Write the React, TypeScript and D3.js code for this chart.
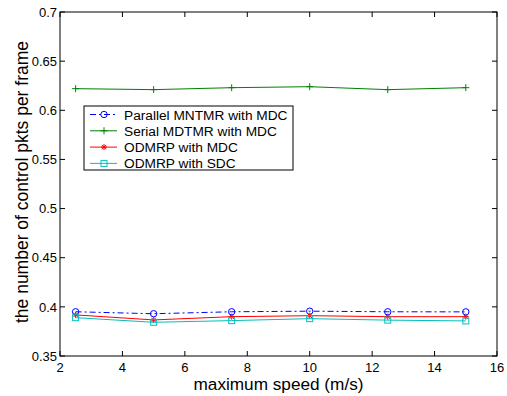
import React, { useRef, useEffect } from 'react';
import * as d3 from 'd3';

const speeds = [2.5, 5, 7.5, 10, 12.5, 15];
const parallelMdc = [0.395, 0.393, 0.395, 0.3956, 0.395, 0.3949];
const serialMdc = [0.622, 0.621, 0.623, 0.624, 0.621, 0.623];
const odmrpMdc = [0.3918, 0.3867, 0.39, 0.391, 0.39, 0.39];
const odmrpSdc = [0.389, 0.3843, 0.386, 0.388, 0.3865, 0.3857];
const xTicks = [2, 4, 6, 8, 10, 12, 14, 16];
const yTicks = [0.35, 0.4, 0.45, 0.5, 0.55, 0.6, 0.65, 0.7];

const series = [
  { name: 'Parallel MNTMR with MDC', values: parallelMdc, color: '#0000ff', dash: '6,3,2,3', marker: 'circle' },
  { name: 'Serial MDTMR with MDC', values: serialMdc, color: '#008000', dash: null, marker: 'plus' },
  { name: 'ODMRP with MDC', values: odmrpMdc, color: '#ff0000', dash: null, marker: 'star' },
  { name: 'ODMRP with SDC', values: odmrpSdc, color: '#00bfbf', dash: null, marker: 'square' },
];

function drawMarker(g: any, type: string, x: number, y: number, color: string) {
  if (type === 'circle') {
    g.append('circle').attr('cx', x).attr('cy', y).attr('r', 3.2)
      .attr('fill', 'none').attr('stroke', color).attr('stroke-width', 1);
  } else if (type === 'plus') {
    g.append('path').attr('d', `M${x - 3.5},${y}H${x + 3.5}M${x},${y - 3.5}V${y + 3.5}`)
      .attr('stroke', color).attr('stroke-width', 1);
  } else if (type === 'star') {
    g.append('path')
      .attr('d', `M${x - 3},${y}H${x + 3}M${x},${y - 3}V${y + 3}M${x - 2.2},${y - 2.2}L${x + 2.2},${y + 2.2}M${x - 2.2},${y + 2.2}L${x + 2.2},${y - 2.2}`)
      .attr('stroke', color).attr('stroke-width', 1);
  } else if (type === 'square') {
    g.append('rect').attr('x', x - 3).attr('y', y - 3).attr('width', 6).attr('height', 6)
      .attr('fill', 'none').attr('stroke', color).attr('stroke-width', 1);
  }
}

export default function App() {
  const svgRef = useRef<SVGSVGElement>(null);
  const width = 507;
  const height = 396;

  useEffect(() => {
    const svg = d3.select(svgRef.current);
    svg.selectAll('*').remove();
    const x0 = 60, x1 = 497, y0 = 356, y1 = 12;

    const xScale = d3.scaleLinear().domain([2, 16]).range([x0, x1]);
    const yScale = d3.scaleLinear().domain([0.35, 0.7]).range([y0, y1]);

    svg.append('rect').attr('width', width).attr('height', height).attr('fill', '#fff');

    const font = 'Liberation Sans, Arial, sans-serif';
    const axes = svg.append('g');
    axes.append('rect').attr('x', x0).attr('y', y1).attr('width', x1 - x0).attr('height', y0 - y1)
      .attr('fill', 'none').attr('stroke', '#000').attr('stroke-width', 1);

    xTicks.forEach(t => {
      const x = xScale(t);
      axes.append('line').attr('x1', x).attr('x2', x).attr('y1', y0).attr('y2', y0 - 5).attr('stroke', '#000');
      axes.append('line').attr('x1', x).attr('x2', x).attr('y1', y1).attr('y2', y1 + 5).attr('stroke', '#000');
      axes.append('text').attr('x', x).attr('y', y0 + 15.5).attr('text-anchor', 'middle')
        .attr('font-family', font).attr('font-size', 13).text(String(t));
    });
    yTicks.forEach(t => {
      const y = yScale(t);
      axes.append('line').attr('x1', x0).attr('x2', x0 + 5).attr('y1', y).attr('y2', y).attr('stroke', '#000');
      axes.append('line').attr('x1', x1).attr('x2', x1 - 5).attr('y1', y).attr('y2', y).attr('stroke', '#000');
      axes.append('text').attr('x', x0 - 3).attr('y', y + 4.7).attr('text-anchor', 'end')
        .attr('font-family', font).attr('font-size', 13).text(String(t));
    });

    svg.append('text').attr('x', (x0 + x1) / 2).attr('y', 389.5).attr('text-anchor', 'middle')
      .attr('font-family', font).attr('font-size', 17.2).text('maximum speed (m/s)');
    svg.append('text').attr('transform', `translate(28,${(y0 + y1) / 2 - 2}) rotate(-90)`)
      .attr('text-anchor', 'middle').attr('font-family', font).attr('font-size', 17.5)
      .text('the number of control pkts per frame');

    const line = d3.line<number>().x((d, i) => xScale(speeds[i])).y(d => yScale(d));
    const plot = svg.append('g');
    series.forEach(s => {
      plot.append('path').attr('d', line(s.values)).attr('fill', 'none')
        .attr('stroke', s.color).attr('stroke-width', 1)
        .attr('stroke-dasharray', s.dash);
      s.values.forEach((v, i) => drawMarker(plot, s.marker, xScale(speeds[i]), yScale(v), s.color));
    });

    // Legend
    const lx = 84, ly = 106, lw = 209, lh = 64;
    const leg = svg.append('g');
    leg.append('rect').attr('x', lx).attr('y', ly).attr('width', lw).attr('height', lh)
      .attr('fill', '#fff').attr('stroke', '#000').attr('stroke-width', 1);
    series.forEach((s, i) => {
      const y = ly + 8.5 + i * 16.3;
      leg.append('line').attr('x1', lx + 6).attr('x2', lx + 33).attr('y1', y).attr('y2', y)
        .attr('stroke', s.color).attr('stroke-width', 1).attr('stroke-dasharray', s.dash);
      drawMarker(leg, s.marker, lx + 20, y, s.color);
      leg.append('text').attr('x', lx + 40).attr('y', y + 5).attr('font-family', font)
        .attr('font-size', 13.7).text(s.name);
    });
  }, []);

  return (
    <svg ref={svgRef} width={width} height={height}
      style={{ display: 'block', position: 'fixed', top: 0, left: 0 }} />
  );
}
